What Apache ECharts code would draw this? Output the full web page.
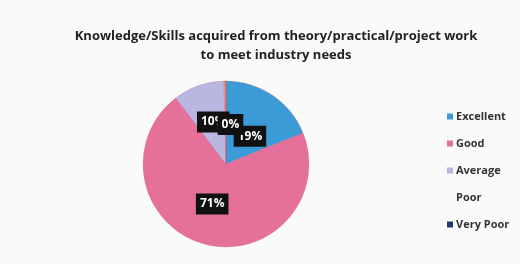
<!DOCTYPE html>
<html><head><meta charset="utf-8">
<script src="https://cdn.jsdelivr.net/npm/echarts@6/dist/echarts.min.js"></script>
<style>html,body{margin:0;padding:0;background:#fafafa}#c{width:520px;height:264px}</style>
</head><body><div id="c"></div>
<script>
const categories = ['Excellent', 'Good', 'Average', 'Poor', 'Very Poor'];
const values = [19, 71, 10, 0.4, 0];
const colors = ['#3a9bd6', '#e5719a', '#bab6e2', '#f0906a', '#1f3b6c'];
const labelOffsets = [[-1, 9], [-2, -3], [2, 0], [5, 5], [0, 0]];
const titleText = 'Knowledge/Skills acquired from theory/practical/project work\nto meet industry needs';

const chart = echarts.init(document.getElementById('c'));
chart.setOption({
  backgroundColor: '#fafafa',
  animation: false,
  title: {
    text: titleText, left: 271, top: 22, textAlign: 'center',
    textStyle: { fontFamily: 'Open Sans', fontWeight: 'bold', fontSize: 13, color: '#222', lineHeight: 19 }
  },
  legend: {
    orient: 'vertical', left: 442, top: 104, itemGap: 12,
    itemWidth: 6, itemHeight: 6, icon: 'rect',
    itemStyle: { borderWidth: 0 },
    textStyle: { fontFamily: 'Open Sans', fontSize: 11, fontWeight: 'bold', color: '#333', padding: [0,0,0,-2], lineHeight: 15 },
    data: categories.map((c, i) => i === 3 ? { name: c, itemStyle: { opacity: 0 } } : { name: c })
  },
  series: [{
    type: 'pie', center: [226, 164], radius: 83, startAngle: 90, clockwise: true,
    avoidLabelOverlap: false, minShowLabelAngle: 0,
    labelLayout: { hideOverlap: false },
    itemStyle: { borderColor: 'rgba(200,80,120,0.5)', borderWidth: 0.5 },
    label: {
      show: true, position: 'inside',
      formatter: p => Math.round(p.value) + '%',
      fontFamily: 'Open Sans', fontWeight: 'bold', fontSize: 12, color: '#fff',
      backgroundColor: '#111', padding: [5, 4, 4, 4]
    },
    labelLine: { show: false },
    data: categories.map((c, i) => ({
      name: c, value: values[i], itemStyle: { color: colors[i] },
      label: i === 4 ? { show: false } : { offset: labelOffsets[i] }
    }))
  }]
});
</script></body></html>
